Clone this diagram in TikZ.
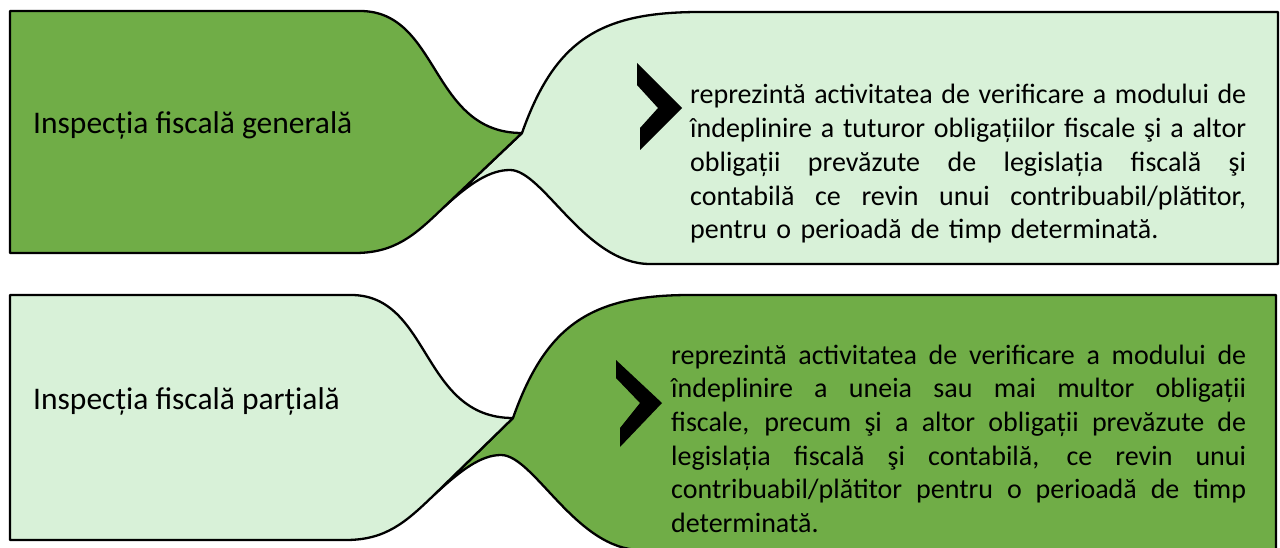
\documentclass[tikz,border=0pt]{standalone}
\usepackage{fontspec}
\setmainfont{Carlito}
\definecolor{darkg}{HTML}{70AD47}
\definecolor{lightg}{HTML}{D8F1D8}
\newcommand{\jl}[2]{\leavevmode\hbox to #1pt{\spaceskip=\fontdimen2\font plus 1fil minus 0.08em\relax #2}}
\begin{document}
\begin{tikzpicture}[x=1pt,y=-1pt,
  outl/.style={draw=black, line width=2.3pt, line join=round},
  darkshape/.style={outl, fill=darkg},
  lightshape/.style={outl, fill=lightg},
  chev/.style={fill=black},
  lbl/.style={inner sep=0pt, font=\fontsize{31.5}{36}\selectfont},
  para/.style={inner sep=0pt, align=left, font=\fontsize{28}{33.7}\selectfont}]
\useasboundingbox (0,0) rectangle (1280,548);
\begin{scope}
\clip (0,0) rectangle (1280,548);
% ---- row 1 ----
\path[lightshape] (522,133) .. controls (555,40) and (600,12) .. (700,12) -- (1278,12) -- (1278,264)
  -- (650,264) .. controls (585,264) and (543,170) .. (510,170)
  .. controls (490,170) and (470,183) .. (443,208) -- cycle;
\path[darkshape] (10,11) -- (360,11) .. controls (440,11) and (430,133) .. (522,133)
  -- (443,208) .. controls (415,235) and (395,253) .. (355,253) -- (10,253) -- cycle;
\path[chev] (637,63) -- (682,108) -- (640,150) -- (640,128) -- (658,108) -- (637,85) -- cycle;
% ---- row 2 ----
\path[darkshape] (513,418) .. controls (546,325) and (591,295) .. (690,295) -- (1276,295) -- (1276,550)
  -- (641,550) .. controls (576,550) and (534,455) .. (501,455)
  .. controls (481,455) and (461,470) .. (434,495) -- cycle;
\path[lightshape] (10,295) -- (351,295) .. controls (431,295) and (421,418) .. (513,418)
  -- (434,495) .. controls (406,522) and (386,540) .. (346,540) -- (10,540) -- cycle;
\path[chev] (616,360) -- (662,403) -- (620,447) -- (620,428) -- (640,403) -- (616,378) -- cycle;
\end{scope}
% ---- texts ----
\node[lbl, anchor=base west] (t1) at (33,134) {Inspecția fiscală generală};
\node[lbl, anchor=base west] (t2) at (33,409) {Inspecția fiscală parțială};
\node[para, text width=556pt, anchor=base west] (d1) at (690,104) {%
\jl{556}{reprezintă activitatea de verificare a modului de}\\
\jl{556}{îndeplinire a tuturor obligațiilor fiscale şi a altor}\\
\jl{556}{obligații prevăzute de legislația fiscală şi}\\
\jl{556}{contabilă ce revin unui contribuabil/plătitor,}\\
pentru o perioadă de timp determinată.};
\node[para, text width=575pt, anchor=base west] (d2) at (671,364) {%
\jl{575}{reprezintă activitatea de verificare a modului de}\\
\jl{575}{îndeplinire a uneia sau mai multor obligații}\\
\jl{575}{fiscale, precum şi a altor obligații prevăzute de}\\
\jl{575}{legislația fiscală şi contabilă, ce revin unui}\\
\jl{575}{contribuabil/plătitor pentru o perioadă de timp}\\
determinată.};
\end{tikzpicture}
\end{document}
